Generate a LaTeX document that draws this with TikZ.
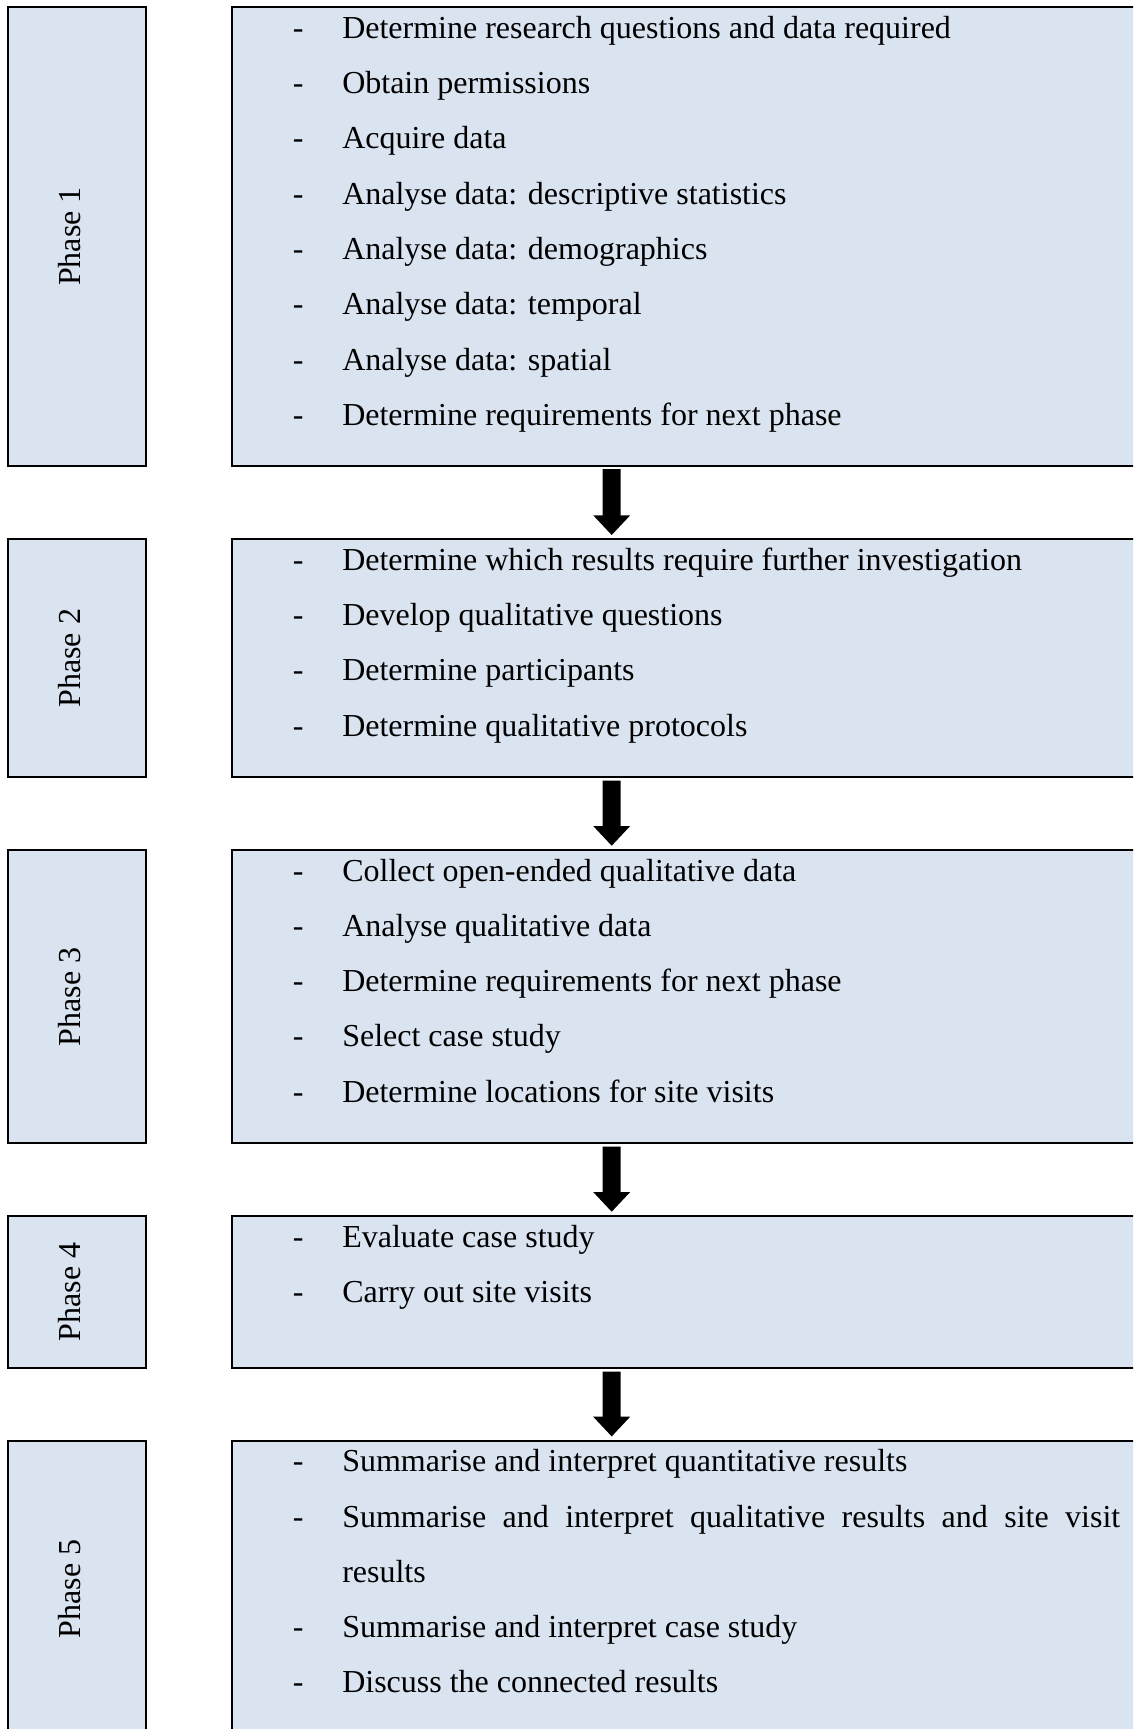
\documentclass[tikz,border=0pt]{standalone}
\usepackage{fontspec}
\setmainfont{Liberation Serif}
\usetikzlibrary{calc,fit}
\definecolor{boxfill}{HTML}{DAE3F0}
\tikzset{
  phasebox/.style={draw=black, line width=1.7pt, fill=boxfill, inner sep=0pt, outer sep=0pt},
  phaselabel/.style={rotate=90, anchor=base, inner sep=0pt, font=\fontsize{24}{28}\selectfont},
  itemtext/.style={anchor=base west, inner sep=0pt, font=\fontsize{24}{28}\selectfont},
  arrowfill/.style={fill=black},
}
\newcommand\blockarr[2]{%
  \fill[arrowfill] ($(#1.south -| ax)+(-9,3.3)$) -- ($(#2.north -| ax)+(-9,-24)$)
    -- ($(#2.north -| ax)+(-18.5,-24)$) -- ($(#2.north -| ax)+(0,-4.3)$)
    -- ($(#2.north -| ax)+(18.5,-24)$) -- ($(#2.north -| ax)+(9,-24)$)
    -- ($(#1.south -| ax)+(9,3.3)$) -- cycle;}
\newcommand\itemlist[3]{%
  \foreach \itm [count=\i] in {#3} {
    \node[itemtext] (#1d\i) at (292.7, {#2+31+(\i-1)*55.3}) {-};
    \node[itemtext] (#1t\i) at (342, {#2+31+(\i-1)*55.3}) {\itm};
  }}
\begin{document}
\begin{tikzpicture}[x=0.75pt,y=-0.75pt]
\clip (0,0) rectangle (1133,1729);
\fill[white] (0,0) rectangle (1133,1729);
\coordinate (ax) at (611.7,0);
% boxes
\node[phasebox, fit={(8.3,7.3) (146,465.7)}] (l1) {};
\node[phasebox, fit={(231.7,7.3) (1150,465.7)}] (b1) {};
\node[phasebox, fit={(8.3,539.3) (146,777.3)}] (l2) {};
\node[phasebox, fit={(231.7,539.3) (1150,777.3)}] (b2) {};
\node[phasebox, fit={(8.3,850) (146,1143.3)}] (l3) {};
\node[phasebox, fit={(231.7,850) (1150,1143.3)}] (b3) {};
\node[phasebox, fit={(8.3,1216) (146,1368.3)}] (l4) {};
\node[phasebox, fit={(231.7,1216) (1150,1368.3)}] (b4) {};
\node[phasebox, fit={(8.3,1440.7) (146,1737)}] (l5) {};
\node[phasebox, fit={(231.7,1440.7) (1150,1737)}] (b5) {};
% phase labels
\node[phaselabel] (ph1) at (80,236.5) {Phase 1};
\node[phaselabel] (ph2) at (80,658.3) {Phase 2};
\node[phaselabel] (ph3) at (80,996.7) {Phase 3};
\node[phaselabel] (ph4) at (80,1292) {Phase 4};
\node[phaselabel] (ph5) at (80,1589) {Phase 5};
% items
\itemlist{a}{7.3}{Determine research questions and data required,Obtain permissions,Acquire data,Analyse data: descriptive statistics,Analyse data: demographics,Analyse data: temporal,Analyse data: spatial,Determine requirements for next phase}
\itemlist{b}{539.3}{Determine which results require further investigation,Develop qualitative questions,Determine participants,Determine qualitative protocols}
\itemlist{c}{850}{Collect open-ended qualitative data,Analyse qualitative data,Determine requirements for next phase,Select case study,Determine locations for site visits}
\itemlist{d}{1216}{Evaluate case study,Carry out site visits}
% phase 5 items
\node[itemtext] (ed1) at (292.7,1471.7) {-};
\node[itemtext] (et1) at (342,1471.7) {Summarise and interpret quantitative results};
\node[itemtext] (ed2) at (292.7,1527.0) {-};
\node[itemtext] (et2) at (342,1527.0) {\makebox[583.5pt][s]{Summarise and interpret qualitative results and site visit}};
\node[itemtext] (et3) at (342,1582.3) {results};
\node[itemtext] (ed4) at (292.7,1637.6) {-};
\node[itemtext] (et4) at (342,1637.6) {Summarise and interpret case study};
\node[itemtext] (ed5) at (292.7,1692.9) {-};
\node[itemtext] (et5) at (342,1692.9) {Discuss the connected results};
% arrows
\blockarr{b1}{b2}
\blockarr{b2}{b3}
\blockarr{b3}{b4}
\blockarr{b4}{b5}
\end{tikzpicture}
\end{document}
